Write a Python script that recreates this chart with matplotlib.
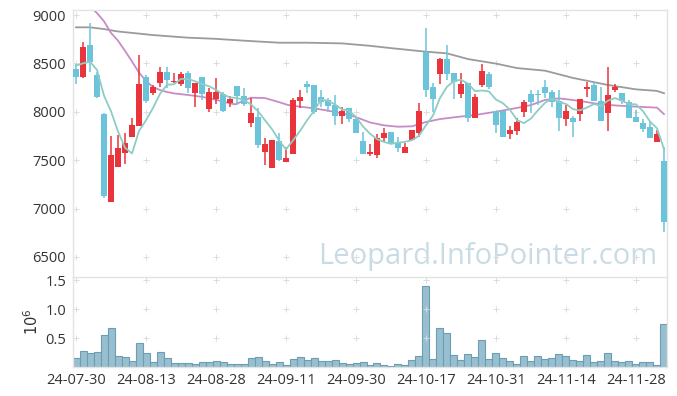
import numpy as np
import pandas as pd
import matplotlib
matplotlib.use("Agg")
import matplotlib.pyplot as plt

# =========================
# 1. DATA
# =========================
tick_labels = ["24-07-30", "24-08-13", "24-08-28", "24-09-11", "24-09-30",
               "24-10-17", "24-10-31", "24-11-14", "24-11-28"]

opens = [8442, 8356, 8690, 8380, 7977, 7072, 7433, 7571, 7743, 7853,
         8356, 8198, 8294, 8411, 8308, 8284, 8404, 8190, 8356, 8025,
         8132, 8180, 8094, 8267, 8160, 7888, 7946, 7588, 7416, 7698,
         7485, 7568, 8112, 8287, 8277, 8150, 8122, 8070, 7960, 8036,
         7926, 7698, 7564, 7554, 7726, 7788, 7685, 7578, 7705, 7786,
         8621, 8253, 8393, 8542, 8397, 8184, 8301, 7941, 8280, 8390,
         8008, 8008, 7767, 7805, 8001, 8184, 8184, 8256, 8201, 8112,
         7922, 7933, 7974, 8232, 8277, 8112, 7984, 8229, 8194, 8105,
         7950, 7881, 7846, 7685, 7492]
highs = [8490, 8718, 8914, 8415, 7991, 7750, 7760, 7778, 7933, 8587,
         8380, 8277, 8459, 8459, 8404, 8408, 8421, 8297, 8356, 8249,
         8346, 8201, 8160, 8267, 8243, 8139, 8036, 7726, 7709, 7778,
         7640, 8146, 8225, 8318, 8277, 8222, 8146, 8174, 8053, 8036,
         7950, 7788, 7664, 7767, 7829, 7788, 7743, 7674, 7809, 8087,
         8862, 8294, 8552, 8690, 8397, 8404, 8301, 8188, 8490, 8414,
         8008, 8008, 7855, 7932, 8122, 8225, 8225, 8329, 8225, 8225,
         8070, 7957, 8129, 8311, 8311, 8253, 8459, 8284, 8194, 8122,
         8019, 7926, 7898, 7812, 7640]
lows = [8284, 8350, 8415, 8139, 7113, 7072, 7433, 7457, 7743, 7853,
        8087, 8174, 8260, 8242, 8294, 8267, 8191, 8046, 8122, 7995,
        8077, 8001, 8053, 8070, 8060, 7840, 7630, 7450, 7416, 7492,
        7485, 7568, 8036, 8198, 7974, 8050, 7994, 7864, 7871, 7898,
        7784, 7568, 7543, 7526, 7692, 7671, 7581, 7578, 7705, 7735,
        8150, 8002, 8285, 8330, 8130, 8139, 7898, 7941, 8260, 8232,
        7777, 7743, 7714, 7760, 7950, 7984, 8070, 8139, 8053, 7802,
        7853, 7743, 7908, 8157, 8115, 7908, 7802, 8201, 8077, 7939,
        7898, 7795, 7726, 7685, 6755]
closes = [8363, 8669, 8518, 8156, 7130, 7554, 7623, 7681, 7863, 8287,
          8112, 8256, 8408, 8332, 8318, 8387, 8249, 8295, 8184, 8204,
          8204, 8012, 8132, 8167, 8084, 7988, 7657, 7667, 7709, 7502,
          7523, 8122, 8153, 8256, 7994, 8105, 8063, 7960, 8008, 7922,
          7784, 7568, 7588, 7726, 7778, 7681, 7629, 7636, 7809, 8006,
          8228, 8129, 8542, 8387, 8311, 8286, 7933, 8150, 8421, 8260,
          7867, 7743, 7812, 7893, 8100, 8105, 8172, 8191, 8105, 7933,
          8008, 7898, 8129, 8253, 8115, 7908, 8174, 8260, 8115, 7939,
          7898, 7822, 7726, 7767, 6858]
# closes before the first visible day (estimated, needed for the 5-day average)
prior_closes = [8549, 8433, 8586, 8454]

# volume in millions
volumes = [0.155, 0.276, 0.241, 0.259, 0.552, 0.672, 0.190, 0.172, 0.103, 0.414,
           0.241, 0.086, 0.259, 0.155, 0.069, 0.069, 0.069, 0.052, 0.086, 0.086,
           0.103, 0.086, 0.052, 0.052, 0.052, 0.155, 0.172, 0.103, 0.052, 0.086,
           0.034, 0.138, 0.172, 0.121, 0.155, 0.103, 0.103, 0.121, 0.069, 0.052,
           0.069, 0.086, 0.034, 0.069, 0.034, 0.017, 0.052, 0.034, 0.121, 0.190,
           1.402, 0.138, 0.672, 0.586, 0.207, 0.121, 0.224, 0.172, 0.466, 0.138,
           0.241, 0.155, 0.103, 0.052, 0.190, 0.103, 0.190, 0.138, 0.155, 0.224,
           0.190, 0.121, 0.103, 0.207, 0.086, 0.103, 0.241, 0.103, 0.086, 0.103,
           0.052, 0.086, 0.086, 0.034, 0.741]

# 20-day average (purple), read at these day positions
ma20_pos = [0, 1, 2, 3, 4, 5, 6, 7, 8, 9, 10, 11, 12, 13, 14, 16, 18, 20, 21,
            22.7, 24, 25, 27, 29, 30.3, 32, 34, 36, 38, 40, 42, 44, 46, 48, 50,
            52, 54, 57, 60, 63, 65, 67, 69, 71, 73, 75, 77, 80, 83, 84]
ma20_val = [9250, 9160, 9085, 9020, 8935, 8815, 8735, 8630, 8520, 8405, 8320,
            8255, 8225, 8205, 8190, 8174, 8155, 8125, 8105, 8077, 8115, 8146,
            8142, 8100, 8070, 8053, 8036, 8012, 7984, 7945, 7890, 7860, 7846,
            7850, 7895, 7925, 7943, 7967, 8001, 8040, 8070, 8122, 8139, 8122,
            8100, 8077, 8066, 8053, 8043, 7976]

# long average (gray), read at these day positions
ma_long_pos = [0, 2, 4, 6, 9, 11, 13, 16, 20, 24, 29, 33, 38, 42, 45, 50, 53,
               56, 60, 63, 67, 71, 76, 80, 83, 84]
ma_long_val = [8873, 8873, 8855, 8830, 8808, 8793, 8782, 8766, 8754, 8735, 8714,
               8714, 8707, 8682, 8658, 8621, 8604, 8545, 8498, 8452, 8425, 8350,
               8277, 8232, 8216, 8192]

# =========================
# 2. PREP
# =========================
df = pd.DataFrame({"open": opens, "high": highs, "low": lows,
                   "close": closes, "volume": volumes})
x = np.arange(len(df))
ma5 = pd.Series(prior_closes + closes).rolling(5).mean().iloc[len(prior_closes):]

up = df["close"] >= df["open"]
RED = "#e9343b"
BLUE = "#6cc4da"
GRID = "#dcdcdc"
SPINE = "#e3e3e3"

plt.rcParams["font.family"] = ["Open Sans", "DejaVu Sans"]

# =========================
# 3. FIGURE
# =========================
W, H = 677, 396
fig = plt.figure(figsize=(W / 100, H / 100), dpi=100)
ax = fig.add_axes([73 / W, 1 - 277 / H, 594 / W, 267 / H])
axv = fig.add_axes([73 / W, 1 - 367 / H, 594 / W, 90 / H], sharex=ax)

# candles
body_bottom = np.minimum(df["open"], df["close"])
body_height = np.abs(df["close"] - df["open"]).clip(lower=4)
colors = np.where(up, RED, BLUE)
ax.vlines(x, df["low"], df["high"], colors=colors, linewidth=1.1, zorder=3)
ax.bar(x, body_height, bottom=body_bottom, width=0.72, color=colors,
       linewidth=0, zorder=4)

# moving averages
ax.plot(ma_long_pos, ma_long_val, color="#9b9b9b", linewidth=1.3, zorder=2)
ax.plot(ma20_pos, ma20_val, color="#c98bc6", linewidth=1.3, zorder=2)
ax.plot(x, ma5, color="#8dcdc3", linewidth=1.3, zorder=5)

# volume
axv.bar(x, df["volume"], width=1.0, color="#98bfd0", edgecolor="#6c9db3",
        linewidth=0.8, zorder=2)

# =========================
# 4. AXES STYLE
# =========================
xticks = np.arange(0, len(df), 10)
price_ticks = [6500, 7000, 7500, 8000, 8500, 9000]
vol_ticks = [0.5, 1.0, 1.5]

ax.set_xlim(-0.43, len(df) - 0.57)
ax.set_ylim(6293, 9052)
axv.set_ylim(0, 1.555)

ax.set_yticks(price_ticks)
axv.set_yticks(vol_ticks)
axv.set_yticklabels(["%.1f" % v for v in vol_ticks])
axv.set_xticks(xticks)
axv.set_xticklabels(tick_labels)
ax.tick_params(axis="x", bottom=False, labelbottom=False)

for a in (ax, axv):
    a.tick_params(length=0, labelsize=10.5, colors="#333333", pad=5)
    for s in a.spines.values():
        s.set_color(SPINE)
        s.set_linewidth(1)
ax.spines["bottom"].set_visible(False)
axv.tick_params(axis="x", pad=4)

# small "+" marks where grid lines would cross
gx, gy = np.meshgrid(xticks, price_ticks)
ax.scatter(gx.ravel(), gy.ravel(), marker="+", s=20, color=GRID,
           linewidths=0.7, zorder=1, clip_on=False)
gx, gy = np.meshgrid(xticks, vol_ticks)
axv.scatter(gx.ravel(), gy.ravel(), marker="+", s=20, color=GRID,
            linewidths=0.7, zorder=3, clip_on=False)

fig.text(33 / W, 1 - 322 / H, r"$10^6$", rotation=90, ha="center",
         va="center", fontsize=10.5, color="#333333")

# watermark
ax.text(0.698, 0.05, "Leopard.InfoPointer.com", transform=ax.transAxes,
        ha="center", va="baseline", fontsize=21, color="#c9dce6", zorder=0)

fig.savefig("out.png", dpi=100)
